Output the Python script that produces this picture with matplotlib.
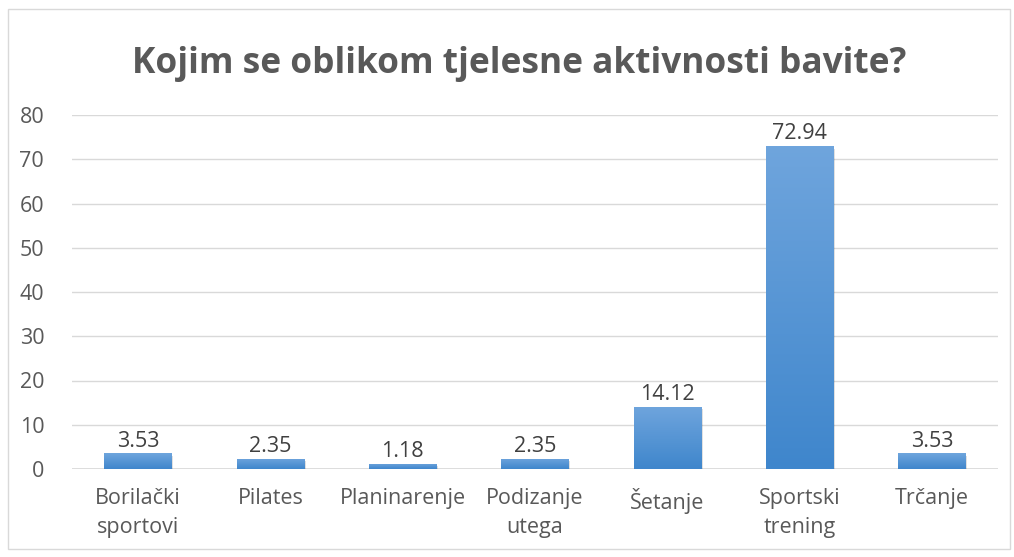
import numpy as np
import matplotlib
matplotlib.use('Agg')
import matplotlib.pyplot as plt
from matplotlib.patches import Rectangle

# ── 데이터 ──
categories = ['Borilački\nsportovi', 'Pilates', 'Planinarenje', 'Podizanje\nutega',
              'Šetanje', 'Sportski\ntrening', 'Trčanje']
values = [3.53, 2.35, 1.18, 2.35, 14.12, 72.94, 3.53]
title = 'Kojim se oblikom tjelesne aktivnosti bavite?'

TEXT = '#595959'
FS = 15.5
plt.rcParams['font.family'] = ['Open Sans', 'DejaVu Sans']

fig = plt.figure(figsize=(10.14, 5.57), dpi=100, facecolor='white')
# outer chart border
fig.add_artist(Rectangle((8 / 1014, 8 / 557), 1002 / 1014, 540 / 557,
                         transform=fig.transFigure, fill=False,
                         edgecolor='#d9d9d9', linewidth=1))

ax = fig.add_axes([72 / 1014, 1 - 469 / 557, 926 / 1014, 354 / 557])
x = np.arange(len(values))
ax.set_xlim(-0.5, len(values) - 0.5)
ax.set_ylim(0, 80)
ax.set_yticks(range(0, 81, 10))

grad = np.linspace(0, 1, 256).reshape(-1, 1)
cmap = matplotlib.colors.LinearSegmentedColormap.from_list('b', ['#3f86cc', '#6fa5dd'])
bars = ax.bar(x, values, width=0.51, color='none', zorder=3)
for b, v in zip(bars, values):
    x0, w = b.get_x(), b.get_width()
    # soft shadow
    ax.add_patch(Rectangle((x0 + 0.012, -0.6), w, v, color='#000000', alpha=0.12,
                           zorder=2.5, linewidth=0))
    im = ax.imshow(grad, extent=(x0, x0 + w, 0, v), origin='lower', cmap=cmap,
                   aspect='auto', zorder=3)
    im.set_clip_path(b)
    ax.text(b.get_x() + w / 2, v + 0.4, f'{v:.2f}', ha='center', va='bottom',
            fontsize=FS, color='#404040', zorder=4)

ax.set_xlim(-0.5, len(values) - 0.5)
ax.set_ylim(0, 80)
ax.set_xticks(x)
ax.set_xticklabels(categories, fontsize=FS, color=TEXT, linespacing=1.5)
ax.tick_params(axis='y', labelsize=FS, labelcolor=TEXT, length=0, pad=20)
ax.tick_params(axis='x', length=0, pad=14)
ax.grid(axis='y', color='#d9d9d9', linewidth=1, zorder=0)
for s in ax.spines.values():
    s.set_visible(False)
ax.axhline(0, color='#d9d9d9', linewidth=1.2, zorder=1)

fig.text(519 / 1014, 1 - 64 / 557, title, ha='center', va='center', fontsize=25.4,
         fontweight='bold', color=TEXT)

fig.savefig('out.png', dpi=100)
